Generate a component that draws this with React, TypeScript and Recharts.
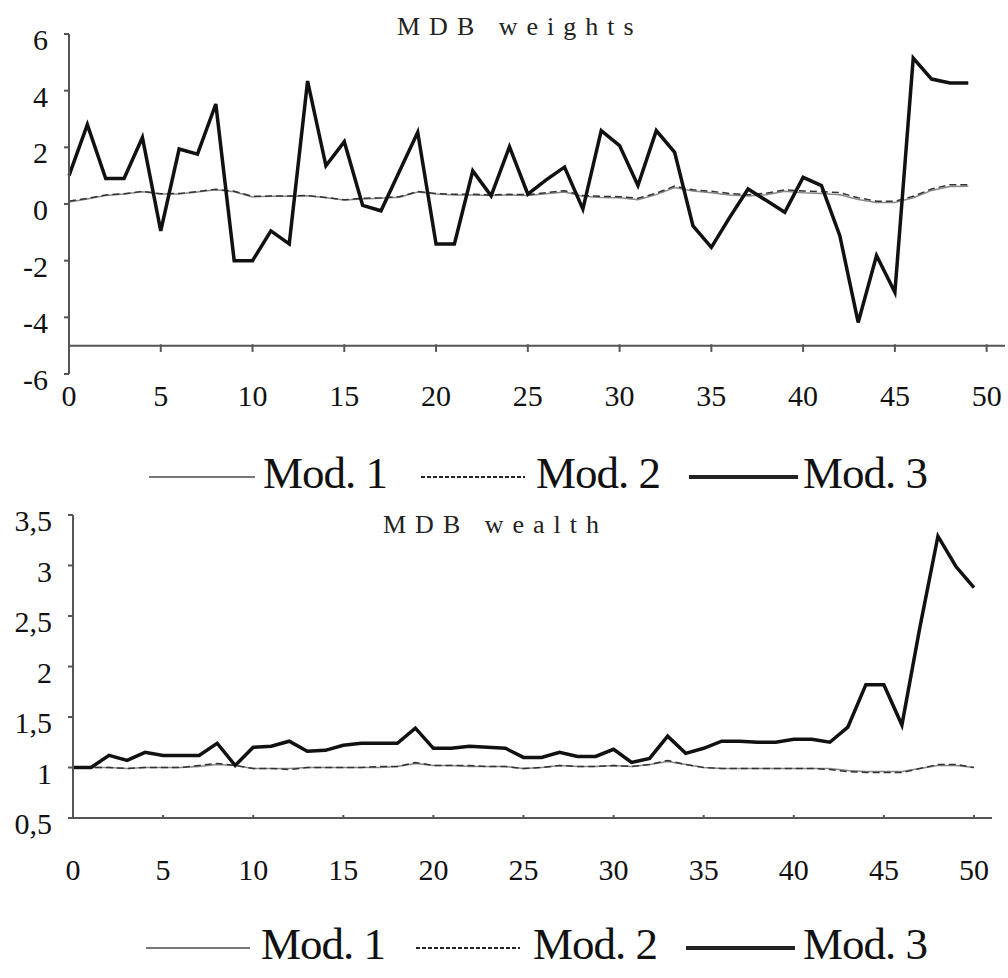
import { Line, LineChart, ReferenceLine, XAxis, YAxis } from "recharts";

const serif = "'Liberation Serif', 'Times New Roman', serif";

// period ticks shared by both panels
const periodTicks = [0, 5, 10, 15, 20, 25, 30, 35, 40, 45, 50];
const weightTicks = [-6, -4, -2, 0, 2, 4, 6];
const wealthTicks = [0.5, 1, 1.5, 2, 2.5, 3, 3.5];
const legendNames = ["Mod. 1", "Mod. 2", "Mod. 3"];

// MDB weights, periods 0..49
const mod1Weights = [
  0.07, 0.18, 0.3, 0.35, 0.43, 0.35, 0.35, 0.42, 0.5, 0.43,
  0.25, 0.27, 0.27, 0.29, 0.22, 0.14, 0.18, 0.2, 0.24, 0.42,
  0.35, 0.32, 0.32, 0.3, 0.32, 0.3, 0.36, 0.42, 0.27, 0.23,
  0.22, 0.15, 0.33, 0.58, 0.46, 0.4, 0.32, 0.28, 0.33, 0.45,
  0.4, 0.37, 0.33, 0.16, 0.05, 0.05, 0.22, 0.48, 0.62, 0.63,
];
const mod2Weights = [
  0.1, 0.2, 0.32, 0.36, 0.45, 0.36, 0.37, 0.44, 0.52, 0.45,
  0.27, 0.28, 0.28, 0.3, 0.23, 0.15, 0.2, 0.22, 0.26, 0.44,
  0.37, 0.34, 0.34, 0.32, 0.34, 0.33, 0.4, 0.47, 0.3, 0.27,
  0.26, 0.2, 0.38, 0.63, 0.5, 0.45, 0.37, 0.33, 0.38, 0.5,
  0.46, 0.44, 0.4, 0.22, 0.1, 0.1, 0.27, 0.53, 0.68, 0.68,
];
const mod3Weights = [
  1.0, 2.8, 0.9, 0.9, 2.35, -0.95, 1.94, 1.76, 3.53, -2.0,
  -2.0, -0.95, -1.41, 4.34, 1.35, 2.2, -0.05, -0.24, 1.15, 2.53,
  -1.41, -1.41, 1.17, 0.29, 2.02, 0.35, 0.85, 1.3, -0.18, 2.59,
  2.06, 0.65, 2.59, 1.82, -0.77, -1.53, -0.47, 0.53, 0.12, -0.29,
  0.94, 0.65, -1.12, -4.18, -1.82, -3.12, 5.15, 4.41, 4.27, 4.27,
];

// MDB wealth, periods 0..50
const mod1Wealth = [
  1.0, 1.0, 1.0, 0.99, 1.0, 1.0, 1.0, 1.01, 1.03, 1.02,
  0.99, 0.99, 0.99, 1.0, 1.0, 1.0, 1.0, 1.0, 1.01, 1.04,
  1.02, 1.02, 1.01, 1.01, 1.01, 0.99, 1.0, 1.02, 1.01, 1.01,
  1.02, 1.01, 1.03, 1.06, 1.03, 1.0, 0.99, 0.99, 0.99, 0.99,
  0.99, 0.99, 0.99, 0.97, 0.96, 0.96, 0.96, 0.99, 1.02, 1.02, 1.0,
];
const mod2Wealth = [
  1.0, 1.0, 1.0, 0.99, 1.0, 1.0, 1.0, 1.02, 1.04, 1.02,
  0.99, 0.99, 0.98, 1.0, 1.0, 1.0, 1.0, 1.01, 1.01, 1.05,
  1.02, 1.02, 1.02, 1.01, 1.01, 0.99, 1.0, 1.02, 1.01, 1.01,
  1.02, 1.01, 1.03, 1.07, 1.03, 1.0, 0.99, 0.99, 0.99, 0.99,
  0.99, 0.99, 0.98, 0.96, 0.95, 0.95, 0.95, 0.99, 1.03, 1.03, 1.0,
];
const mod3Wealth = [
  1.0, 1.0, 1.12, 1.07, 1.15, 1.12, 1.12, 1.12, 1.24, 1.02,
  1.2, 1.21, 1.26, 1.16, 1.17, 1.22, 1.24, 1.24, 1.24, 1.39,
  1.19, 1.19, 1.21, 1.2, 1.19, 1.1, 1.1, 1.15, 1.11, 1.11,
  1.18, 1.05, 1.09, 1.31, 1.14, 1.19, 1.26, 1.26, 1.25, 1.25,
  1.28, 1.28, 1.25, 1.4, 1.82, 1.82, 1.42, 2.39, 3.29, 2.99, 2.78,
];

const weightsData = mod3Weights.map((v, i) => ({ t: i, m1: mod1Weights[i], m2: mod2Weights[i], m3: v }));
const wealthData = mod3Wealth.map((v, i) => ({ t: i, m1: mod1Wealth[i], m2: mod2Wealth[i], m3: v }));

const axisColor = "#555";
const textStyle = { fontFamily: serif };

const yTick = (props: any) => (
  <text x={props.x} y={props.y + 16} textAnchor="end" fontSize={30} fontFamily={serif} style={textStyle} fill="#111">
    {String(props.payload.value).replace(".", ",")}
  </text>
);

const xTick = (offset: number) => (props: any) => (
  <text x={props.x} y={props.y + offset} textAnchor="middle" fontSize={30} fontFamily={serif} style={textStyle} fill="#111">
    {props.payload.value}
  </text>
);

function Legend({ top, items }: { top: number; items: Array<[number, number, number]> }) {
  return (
    <svg width={1008} height={60} style={{ position: "absolute", left: 0, top }}>
      {items.map(([x1, x2, tx], i) => (
        <g key={i}>
          <line
            x1={x1}
            x2={x2}
            y1={30}
            y2={30}
            stroke={i === 0 ? "#777" : "#222"}
            strokeWidth={i === 2 ? 4 : 2}
            strokeDasharray={i === 1 ? "4 2" : undefined}
          />
          <text x={tx} y={41} fontSize={45} letterSpacing={-1} fontFamily={serif} style={textStyle} fill="#111">
            {legendNames[i]}
          </text>
        </g>
      ))}
    </svg>
  );
}

function Title({ text, x, y }: { text: string; x: number; y: number }) {
  return (
    <svg width={400} height={40} style={{ position: "absolute", left: x, top: y - 30 }}>
      <text x={0} y={30} fontSize={26} letterSpacing={9} fontFamily={serif} style={textStyle} fill="#222">
        {text}
      </text>
    </svg>
  );
}

export default function App() {
  return (
    <div style={{ position: "absolute", left: 0, top: 0, width: 1008, height: 978, background: "#fff" }}>
      <div style={{ position: "absolute", left: 0, top: 0 }}>
        <LineChart width={1008} height={420} data={weightsData} margin={{ top: 34, right: 3, bottom: 6, left: 0 }}>
          <XAxis
            dataKey="t"
            type="number"
            domain={[0, 51]}
            ticks={periodTicks}
            axisLine={false}
            tickLine={false}
            tickSize={0}
            tickMargin={0}
            height={40}
            tick={xTick(32)}
          />
          <YAxis
            domain={[-6, 6]}
            ticks={weightTicks}
            width={69}
            axisLine={{ stroke: axisColor, strokeWidth: 2 }}
            tickLine={{ stroke: axisColor, strokeWidth: 2 }}
            tickSize={5}
            tickMargin={16}
            tick={yTick}
          />
          <ReferenceLine y={-5} stroke={axisColor} strokeWidth={2} />
          {periodTicks.slice(1).map((t) => (
            <ReferenceLine key={t} segment={[{ x: t, y: -4.95 }, { x: t, y: -5.22 }]} stroke={axisColor} strokeWidth={2} />
          ))}
          <Line dataKey="m1" stroke="#888" strokeWidth={1.5} dot={false} isAnimationActive={false} />
          <Line dataKey="m2" stroke="#333" strokeWidth={1.5} strokeDasharray="7 4" dot={false} isAnimationActive={false} />
          <Line dataKey="m3" stroke="#111" strokeWidth={3.5} dot={false} isAnimationActive={false} />
        </LineChart>
      </div>
      <Title text="MDB weights" x={397} y={35} />
      <Legend top={447} items={[[149, 255, 263], [421, 525, 536], [689, 798, 803]]} />

      <div style={{ position: "absolute", left: 0, top: 480 }}>
        <LineChart width={1008} height={420} data={wealthData} margin={{ top: 35, right: 16, bottom: 42, left: 0 }}>
          <XAxis
            dataKey="t"
            type="number"
            domain={[0, 51]}
            ticks={periodTicks}
            axisLine={{ stroke: axisColor, strokeWidth: 2 }}
            tickLine={false}
            tickSize={0}
            tickMargin={0}
            height={40}
            tick={xTick(62)}
          />
          <YAxis
            domain={[0.5, 3.5]}
            ticks={wealthTicks}
            width={73}
            axisLine={{ stroke: axisColor, strokeWidth: 2 }}
            tickLine={{ stroke: axisColor, strokeWidth: 2 }}
            tickSize={5}
            tickMargin={16}
            tick={yTick}
          />
          {periodTicks.slice(1).map((t) => (
            <ReferenceLine key={t} segment={[{ x: t, y: 0.53 }, { x: t, y: 0.5 }]} stroke={axisColor} strokeWidth={2} />
          ))}
          <Line dataKey="m1" stroke="#888" strokeWidth={1.5} dot={false} isAnimationActive={false} />
          <Line dataKey="m2" stroke="#333" strokeWidth={1.5} strokeDasharray="7 4" dot={false} isAnimationActive={false} />
          <Line dataKey="m3" stroke="#111" strokeWidth={3.5} dot={false} isAnimationActive={false} />
        </LineChart>
      </div>
      <Title text="MDB wealth" x={383} y={533} />
      <Legend top={918} items={[[146, 250, 261], [416, 520, 533], [686, 795, 803]]} />
    </div>
  );
}
